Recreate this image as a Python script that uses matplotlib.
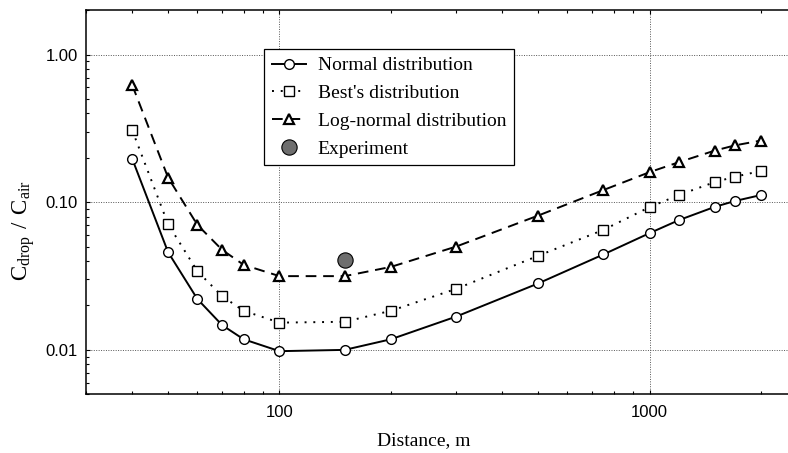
import matplotlib
matplotlib.use("Agg")
import matplotlib.pyplot as plt
from matplotlib.ticker import FixedLocator, LogLocator, NullFormatter, FixedFormatter

distance = [40, 50, 60, 70, 80, 100, 150, 200, 300, 500, 750, 1000, 1200, 1500, 1700, 2000]
normal = [0.197, 0.0459, 0.0221, 0.0147, 0.0118, 0.0098, 0.0100, 0.0118, 0.0168, 0.0282,
          0.0443, 0.0618, 0.0757, 0.0931, 0.102, 0.112]
best = [0.308, 0.0711, 0.0341, 0.0231, 0.0184, 0.0153, 0.0155, 0.0184, 0.0259, 0.0434,
        0.0650, 0.0927, 0.112, 0.137, 0.149, 0.163]
lognormal = [0.623, 0.147, 0.0703, 0.0476, 0.0377, 0.0316, 0.0316, 0.0365, 0.0501, 0.0813,
             0.121, 0.160, 0.187, 0.224, 0.243, 0.262]
exp_x = [150]
exp_y = [0.0407]

labels = ["Normal distribution", "Best's distribution", "Log-normal distribution", "Experiment"]
yticks = [0.01, 0.1, 1.0]
ytick_labels = ["0.01", "0.10", "1.00"]
xticks = [100, 1000]
xtick_labels = ["100", "1000"]

serif = "Liberation Serif"
sans = "Liberation Sans"

fig = plt.figure(figsize=(7.88, 4.53), dpi=100)
ax = fig.add_axes([86/788, 1 - 394.3/453, 1 - 86/788 + 0.002, (394.3 - 10.3)/453])
ax.set_xscale("log")
ax.set_yscale("log")
ax.set_xlim(30, 2390)
ax.set_ylim(0.005, 2.0)

lw = 1.4
ax.plot(distance, normal, color="black", lw=lw, ls="-", marker="o", ms=7,
        mfc="white", mec="black", mew=1.0, label=labels[0], zorder=3)
ax.plot(distance, best, color="black", lw=lw, ls=(0, (1, 3.5)), marker="s", ms=6.8,
        mfc="white", mec="black", mew=1.0, label=labels[1], zorder=3)
ax.plot(distance, lognormal, color="black", lw=lw, ls=(0, (5.5, 3.5)), marker="^", ms=7.5,
        mfc="white", mec="black", mew=1.6, label=labels[2], zorder=3)
ax.plot(exp_x, exp_y, ls="none", marker="o", ms=11, mfc="#6e6e6e", mec="black",
        mew=0.8, label=labels[3], zorder=4)

ax.xaxis.set_major_locator(FixedLocator(xticks))
ax.xaxis.set_major_formatter(FixedFormatter(xtick_labels))
ax.xaxis.set_minor_locator(LogLocator(base=10, subs=range(2, 10)))
ax.xaxis.set_minor_formatter(NullFormatter())
ax.yaxis.set_major_locator(FixedLocator(yticks))
ax.yaxis.set_major_formatter(FixedFormatter(ytick_labels))
ax.yaxis.set_minor_locator(LogLocator(base=10, subs=range(2, 10)))
ax.yaxis.set_minor_formatter(NullFormatter())

ax.tick_params(which="both", direction="in", top=True, right=False, color="black")
ax.tick_params(which="major", length=3, width=0.8)
ax.tick_params(axis="y", which="major", pad=6)
ax.tick_params(axis="x", which="major", pad=8)
ax.tick_params(which="minor", length=2.5, width=0.8)
for lab in ax.get_xticklabels() + ax.get_yticklabels():
    lab.set_fontfamily(sans)
    lab.set_fontsize(12)

ax.grid(True, which="major", color="#555555", ls=(0, (1, 1.5)), lw=0.7)
ax.set_axisbelow(True)
ax.spines["right"].set_visible(False)
for s in ["left", "top", "bottom"]:
    ax.spines[s].set_linewidth(1.1)

fig.text(424/788, 1 - 441/453, "Distance, m", fontfamily=serif, fontsize=14,
         ha="center", va="center")
fig.text(24/788, 1 - 231/453, r"$\mathregular{C_{drop}\ /\ C_{air}}$", fontfamily=serif,
         fontsize=16.5, rotation=90, ha="center", va="center")

leg = ax.legend(loc="upper left", bbox_to_anchor=((264 - 86)/702, 1 - (49 - 10.3)/384),
                prop={"family": serif, "size": 14}, frameon=True, fancybox=False,
                edgecolor="black", framealpha=1, handlelength=1.75, handletextpad=0.6,
                borderpad=0.4, labelspacing=0.52, borderaxespad=0)
leg.get_frame().set_linewidth(0.9)

fig.savefig("out.png", dpi=100)
